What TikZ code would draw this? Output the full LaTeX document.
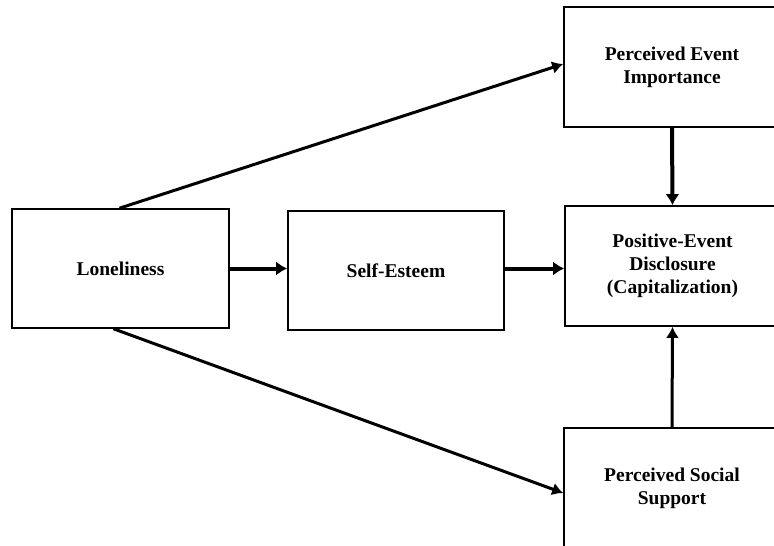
\documentclass[tikz,border=0pt]{standalone}
\usepackage{fontspec}
\setmainfont{Liberation Serif}
\usetikzlibrary{arrows.meta}
\tikzset{
  box/.style={draw=black, line width=1.6pt, rectangle, inner sep=0pt, align=center,
    font=\fontsize{19.5}{23}\selectfont\bfseries},
  thickarrow/.style={line width=4pt, -{Latex[length=11pt,width=14pt]}},
  midarrow/.style={line width=3pt, -{Latex[length=11pt,width=13pt]}},
}
\begin{document}
\begin{tikzpicture}[x=1pt,y=-1pt]
\useasboundingbox (0,0) rectangle (774,546);
\clip (0,0) rectangle (774,546);
\fill[white] (0,0) rectangle (774,546);
\node[box, minimum width=217pt, minimum height=119pt] (L) at (120.5,268.5) {Loneliness};
\node[box, minimum width=216pt, minimum height=119pt] (S) at (396,270.5) {Self-Esteem};
\node[box, minimum width=216pt, minimum height=120pt] (I) at (672,67) {Perceived Event\\Importance};
\node[box, minimum width=215pt, minimum height=120pt] (P) at (672.5,266) {Positive-Event\\Disclosure\\(Capitalization)};
\node[box, minimum width=216pt, minimum height=120pt] (SS) at (672,488) {Perceived Social\\Support};
\draw[thickarrow] (L.east) -- (L.east -| S.west);
\draw[thickarrow] (S.east |- L.east) -- (L.east -| P.west);
\draw[midarrow] ([xshift=-1pt]L.north) -- ([yshift=3pt]I.west);
\draw[midarrow] ([xshift=-7pt]L.south) -- ([yshift=-5pt]SS.west);
\draw[thickarrow] (I.south) -- (P.north);
\draw[midarrow] (SS.north) -- (P.south);
\end{tikzpicture}
\end{document}
